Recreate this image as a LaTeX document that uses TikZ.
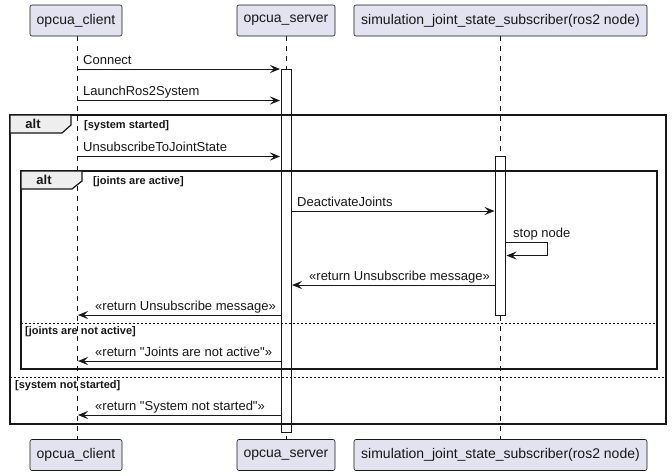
\documentclass[tikz,border=0pt]{standalone}
\usepackage{fontspec}
\setmainfont{Liberation Sans}
\usetikzlibrary{arrows.meta}
\definecolor{ink}{HTML}{181818}
\definecolor{partfill}{HTML}{E2E2F0}
\definecolor{tabfill}{HTML}{EEEEEE}

\tikzset{
  participant/.style={draw=ink, fill=partfill, line width=0.6pt, rounded corners=2pt,
    minimum height=31pt, inner sep=0pt, font=\fontsize{14}{16}\selectfont, text=ink},
  lifeline/.style={draw=ink, line width=0.6pt, dash pattern=on 5pt off 5pt},
  actbar/.style={draw=ink, fill=white, line width=0.9pt},
  msg/.style={draw=ink, line width=0.9pt, -{Stealth[length=10pt,width=8pt,inset=4pt]}},
  msglabel/.style={anchor=base west, inner sep=0pt, font=\fontsize{13}{15}\selectfont, text=ink},
  frameline/.style={draw=ink, line width=1.5pt},
  tabshape/.style={draw=ink, fill=tabfill, line width=1.2pt},
  altlabel/.style={inner sep=0pt, font=\bfseries\fontsize{13}{15}\selectfont, text=ink},
  guard/.style={anchor=base west, inner sep=0pt, font=\bfseries\fontsize{11}{13}\selectfont, text=ink},
  elseline/.style={draw=ink, line width=0.8pt, dash pattern=on 2pt off 2pt}
}

\begin{document}
\begin{tikzpicture}[x=1pt,y=-1pt]
\useasboundingbox (0,0) rectangle (672,475);
\fill[white] (0,0) rectangle (672,475);

% participants, top and bottom
\node[participant, minimum width=92pt]  (cliTop) at (76,20.5)   {opcua\_client};
\node[participant, minimum width=98pt]  (srvTop) at (286,20.5)  {opcua\_server};
\node[participant, minimum width=293pt] (subTop) at (500.5,20.5) {simulation\_joint\_state\_subscriber(ros2 node)};
\node[participant, minimum width=92pt]  (cliBot) at (76,455)    {opcua\_client};
\node[participant, minimum width=98pt]  (srvBot) at (286,455)   {opcua\_server};
\node[participant, minimum width=293pt] (subBot) at (500.5,455) {simulation\_joint\_state\_subscriber(ros2 node)};

% lifelines
\coordinate (cliA) at (77,36);  \coordinate (cliB) at (77,439);
\coordinate (srvA) at (286,36); \coordinate (srvB) at (286,439);
\coordinate (subA) at (500.5,36); \coordinate (subB) at (500.5,439);
\draw[lifeline] (cliA) -- (cliB);
\draw[lifeline] (srvA) -- (srvB);
\draw[lifeline] (subA) -- (subB);

% activation bars
\draw[actbar] (281,69.5) rectangle (291,432);
\draw[actbar] (495.5,156) rectangle (505.5,315);

% outer alt frame
\draw[frameline] (10,115) rectangle (666,424);
\draw[tabshape] (10,115) -- (71,115) -- (71,125) -- (62,133) -- (10,133) -- cycle;
\node[altlabel] (altOuter) at (33,124) {alt};
\node[guard] (gOuter) at (84,128.5) {[system started]};
\draw[elseline] (10,377) -- (666,377);
\node[guard] (gOuterElse) at (15,388.5) {[system not started]};

% inner alt frame
\draw[frameline] (21,171) rectangle (657,369);
\draw[tabshape] (21,171) -- (82,171) -- (82,181) -- (72,189) -- (21,189) -- cycle;
\node[altlabel] (altInner) at (44,180) {alt};
\node[guard] (gInner) at (93,184.5) {[joints are active]};
\draw[elseline] (21,323) -- (657,323);
\node[guard] (gInnerElse) at (25,334.5) {[joints are not active]};

% message end points
\coordinate (m1a) at (77,69);     \coordinate (m1b) at (280,69);
\coordinate (m2a) at (77,100.5);  \coordinate (m2b) at (280,100.5);
\coordinate (m3a) at (77,156.5);  \coordinate (m3b) at (280,156.5);
\coordinate (m4a) at (291,211);   \coordinate (m4b) at (494.5,211);
\coordinate (m5a) at (505.5,242.5); \coordinate (m5b) at (506.5,255.5);
\coordinate (m6a) at (495.5,285); \coordinate (m6b) at (292,285);
\coordinate (m7a) at (281,315);   \coordinate (m7b) at (78,315);
\coordinate (m8a) at (281,361);   \coordinate (m8b) at (78,361);
\coordinate (m9a) at (281,415);   \coordinate (m9b) at (78,415);

\draw[msg] (m1a) -- (m1b);
\node[msglabel] (l1) at (83,64) {Connect};
\draw[msg] (m2a) -- (m2b);
\node[msglabel] (l2) at (83,95.5) {LaunchRos2System};
\draw[msg] (m3a) -- (m3b);
\node[msglabel] (l3) at (83,151.5) {UnsubscribeToJointState};
\draw[msg] (m4a) -- (m4b);
\node[msglabel] (l4) at (297,206) {DeactivateJoints};
\draw[msg] (m5a) -- (547.5,242.5) -- (547.5,255.5) -- (m5b);
\node[msglabel] (l5) at (513,237.5) {stop node};
\draw[msg] (m6a) -- (m6b);
\node[msglabel] (l6) at (309,280) {«return Unsubscribe message»};
\draw[msg] (m7a) -- (m7b);
\node[msglabel] (l7) at (95,310) {«return Unsubscribe message»};
\draw[msg] (m8a) -- (m8b);
\node[msglabel] (l8) at (95,356) {«return \textquotedbl Joints are not active\textquotedbl»};
\draw[msg] (m9a) -- (m9b);
\node[msglabel] (l9) at (95,410) {«return \textquotedbl System not started\textquotedbl»};
\end{tikzpicture}
\end{document}
